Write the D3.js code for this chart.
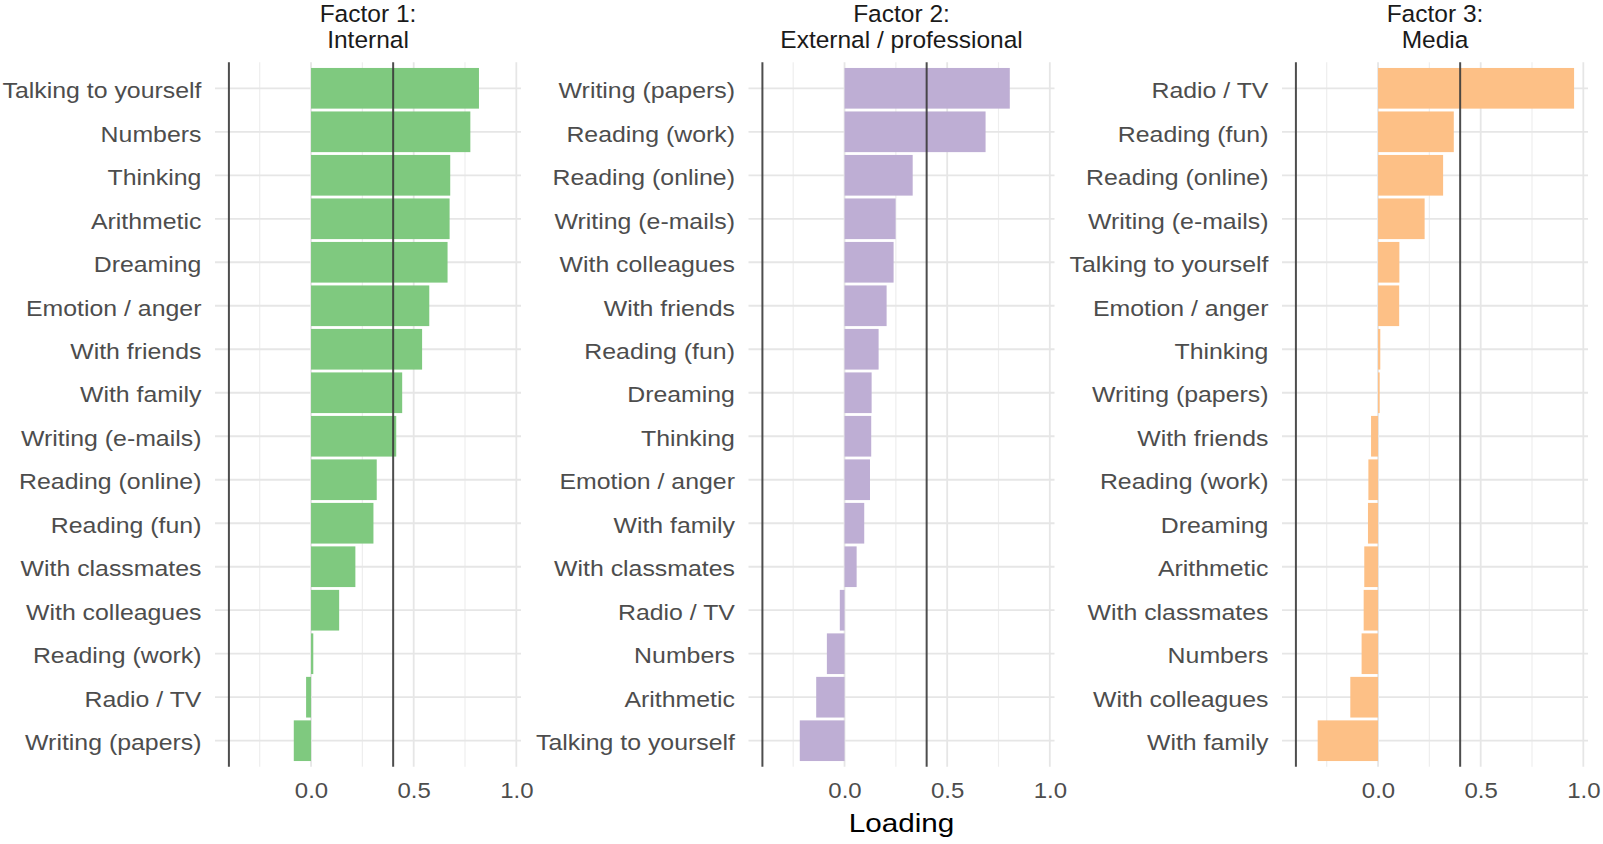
<!DOCTYPE html>
<html><head><meta charset="utf-8">
<script src="https://cdn.jsdelivr.net/npm/d3@7"></script>
<style>
body{margin:0;background:#fff}
svg{display:block}
text{font-family:"Liberation Sans",Arial,Helvetica,sans-serif}
</style>
</head><body>
<svg id="chart" width="1603" height="844"></svg>
<script>
// ---- data ----
const factorTitles = [["Factor 1:", "Internal"], ["Factor 2:", "External / professional"], ["Factor 3:", "Media"]];

const factor1Items = ["Talking to yourself","Numbers","Thinking","Arithmetic","Dreaming","Emotion / anger","With friends","With family","Writing (e-mails)","Reading (online)","Reading (fun)","With classmates","With colleagues","Reading (work)","Radio / TV","Writing (papers)"];
const factor1Loadings = [0.818,0.776,0.678,0.675,0.665,0.576,0.541,0.444,0.415,0.320,0.304,0.216,0.137,0.011,-0.024,-0.084];

const factor2Items = ["Writing (papers)","Reading (work)","Reading (online)","Writing (e-mails)","With colleagues","With friends","Reading (fun)","Dreaming","Thinking","Emotion / anger","With family","With classmates","Radio / TV","Numbers","Arithmetic","Talking to yourself"];
const factor2Loadings = [0.805,0.687,0.332,0.249,0.239,0.205,0.166,0.132,0.130,0.124,0.096,0.059,-0.023,-0.086,-0.138,-0.218];

const factor3Items = ["Radio / TV","Reading (fun)","Reading (online)","Writing (e-mails)","Talking to yourself","Emotion / anger","Thinking","Writing (papers)","With friends","Reading (work)","Dreaming","Arithmetic","With classmates","Numbers","With colleagues","With family"];
const factor3Loadings = [0.955,0.369,0.317,0.227,0.104,0.103,0.011,0.008,-0.034,-0.047,-0.049,-0.067,-0.070,-0.080,-0.135,-0.294];

const cutoffs = [-0.4, 0.4];
const majorTicks = [0, 0.5, 1.0];
const minorTicks = [-0.25, 0.25, 0.75];
const xAxisTitle = "Loading";
const barColors = ["#7fc97f", "#beaed4", "#fdc086"];

// ---- layout ----
const panelTop = 62.2, panelBottom = 766.8;
const panelLeft0 = 215, panelW = 306, panelStep = 533.5;

const panels = [
  {items: factor1Items, values: factor1Loadings},
  {items: factor2Items, values: factor2Loadings},
  {items: factor3Items, values: factor3Loadings}
];

const allVals = [].concat(factor1Loadings, factor2Loadings, factor3Loadings, cutoffs);
const lo = d3.min(allVals), hi = d3.max(allVals);
const pad = (hi - lo) * 0.05;

const svg = d3.select("#chart");

panels.forEach((p, i) => {
  const left = panelLeft0 + i * panelStep;
  const x = d3.scaleLinear().domain([lo - pad, hi + pad]).range([left, left + panelW]);
  const y = d3.scalePoint().domain(p.items).range([panelTop, panelBottom]).padding(0.6);
  const bh = y.step() * 0.935;
  const g = svg.append("g");

  // grid
  g.selectAll("line.minor").data(minorTicks).join("line")
    .attr("x1", d => x(d)).attr("x2", d => x(d))
    .attr("y1", panelTop).attr("y2", panelBottom)
    .attr("stroke", "#eeeeee").attr("stroke-width", 1.2);
  g.selectAll("line.major").data(majorTicks).join("line")
    .attr("x1", d => x(d)).attr("x2", d => x(d))
    .attr("y1", panelTop).attr("y2", panelBottom)
    .attr("stroke", "#e6e6e6").attr("stroke-width", 1.8);
  g.selectAll("line.hgrid").data(p.items).join("line")
    .attr("x1", left).attr("x2", left + panelW)
    .attr("y1", d => y(d)).attr("y2", d => y(d))
    .attr("stroke", "#e6e6e6").attr("stroke-width", 1.8);

  // bars
  g.selectAll("rect.bar").data(p.items.map((c, k) => ({c, v: p.values[k]}))).join("rect")
    .attr("x", d => Math.min(x(0), x(d.v)))
    .attr("width", d => Math.abs(x(d.v) - x(0)))
    .attr("y", d => y(d.c) - bh / 2)
    .attr("height", bh)
    .attr("fill", barColors[i]);

  // cutoff lines
  g.selectAll("line.cut").data(cutoffs).join("line")
    .attr("x1", d => x(d)).attr("x2", d => x(d))
    .attr("y1", panelTop).attr("y2", panelBottom)
    .attr("stroke", "#3a3a3a").attr("stroke-opacity", 0.9).attr("stroke-width", 2);

  // y axis
  const ya = g.append("g").attr("transform", `translate(${left},0)`)
    .call(d3.axisLeft(y).tickSize(0).tickPadding(12));
  ya.select(".domain").remove();
  ya.selectAll("text").attr("fill", "#4d4d4d").attr("font-size", "22px")
    .attr("dy", "0.42em")
    .style("font-family", '"Liberation Sans",Arial,sans-serif')
    .attr("transform", "scale(1.13,1)");

  // x axis
  const xa = g.append("g").attr("transform", `translate(0,${panelBottom})`)
    .call(d3.axisBottom(x).tickValues(majorTicks).tickFormat(d3.format(".1f")).tickSize(0).tickPadding(16));
  xa.select(".domain").remove();
  xa.selectAll("text").attr("fill", "#4d4d4d").attr("font-size", "22px")
    .style("font-family", '"Liberation Sans",Arial,sans-serif')
    .attr("transform", "scale(1.09,1)");

  // title
  const cx = left + panelW / 2;
  const t = g.append("text").attr("text-anchor", "middle").attr("fill", "#1a1a1a")
    .attr("font-size", "24.5px");
  t.append("tspan").attr("x", cx).attr("y", 22).text(factorTitles[i][0]);
  t.append("tspan").attr("x", cx).attr("y", 48).text(factorTitles[i][1]);
});

// x axis title
const centerX = panelLeft0 + (2 * panelStep + panelW) / 2;
svg.append("g").attr("transform", `translate(${centerX},832)`)
  .append("text").attr("text-anchor", "middle").attr("fill", "#000")
  .attr("font-size", "26.5px").attr("transform", "scale(1.12,1)")
  .text(xAxisTitle);
</script>
</body></html>
